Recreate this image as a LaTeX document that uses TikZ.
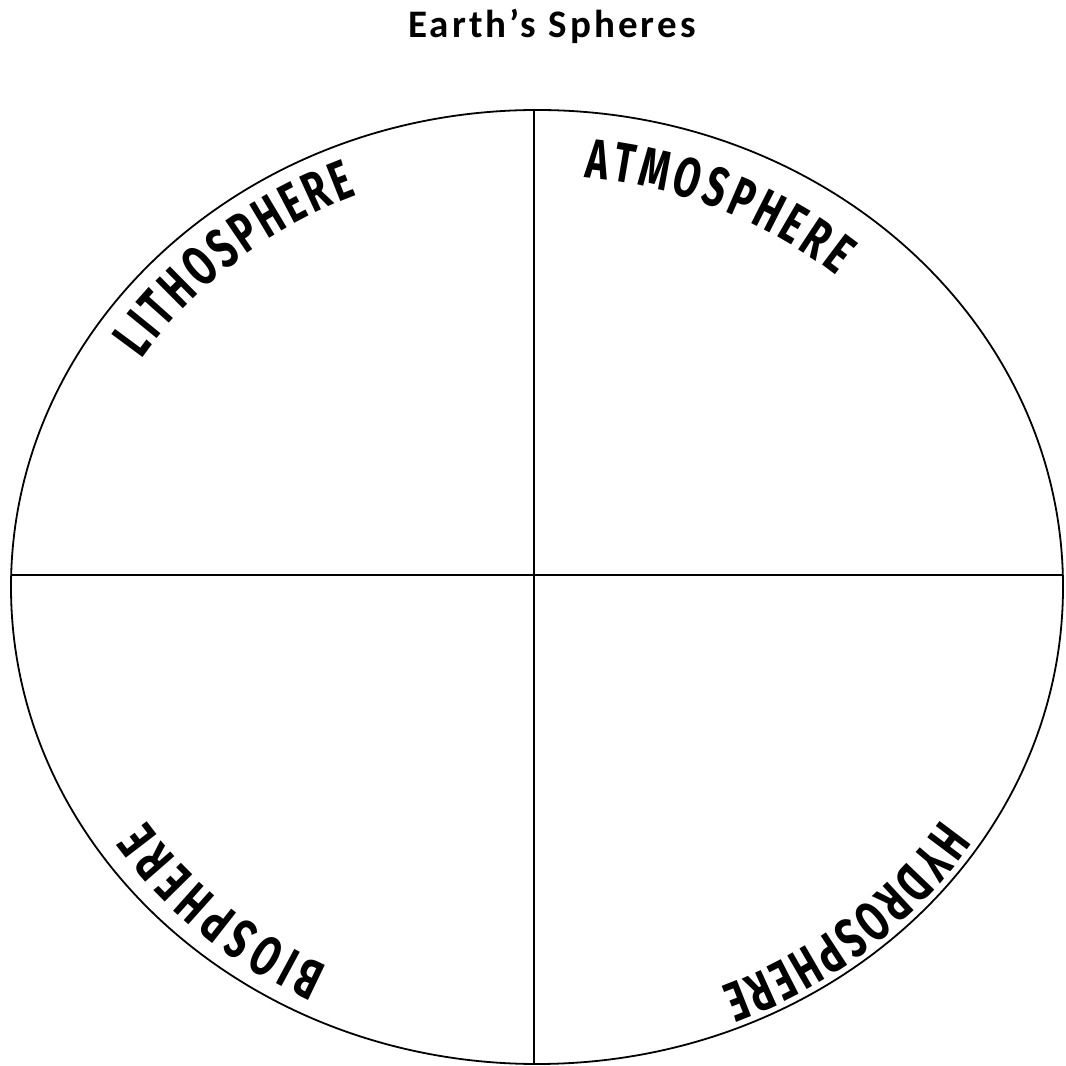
\documentclass[tikz,border=0pt]{standalone}
\usepackage{fontspec}
\setmainfont{Carlito}
\newfontfamily\titlefont[LetterSpace=8]{Carlito}
\newfontfamily\handfont[FakeStretch=0.68]{Fira Sans}
\usetikzlibrary{decorations.text}

\tikzset{
  sphere label/.style={decorate, decoration={text along path,
      text align={fit to path},
      text={|\handfont\bfseries\fontsize{56}{56}\selectfont|#1}}}
}

\begin{document}
\begin{tikzpicture}[x=1pt, y=1pt, line width=1.8pt]
  \useasboundingbox (0,0) rectangle (1066,1066);
  % O = centre of the outline, radii 526 and 477
  \coordinate (O) at (537,479);
  \node (title) at (552,1028) [anchor=base,
    font=\titlefont\bfseries\fontsize{39}{40}\selectfont] {Earth’s Spheres};
  \draw (O) ellipse [x radius=526, y radius=477];
  % the two dividers, cut at the outline
  \begin{scope}
    \clip (O) ellipse [x radius=526, y radius=477];
    \draw (0,491) -- (1066,491);
    \draw (534,0) -- (534,1066);
  \end{scope}
  % names, written clockwise along inner arcs
  \path[sphere label=LITHOSPHERE] (O) ++(147.5:469 and 424)
    arc[start angle=147.5, end angle=112.5, x radius=469, y radius=424];
  \path[sphere label=ATMOSPHERE] (O) ++(84:456 and 412)
    arc[start angle=84, end angle=49, x radius=456, y radius=412];
  \path[sphere label=BIOSPHERE] (O) ++(243.5:469 and 424)
    arc[start angle=243.5, end angle=213.5, x radius=469, y radius=424];
  \path[sphere label=HYDROSPHERE] (O) ++(327.5:480 and 433)
    arc[start angle=327.5, end angle=292.5, x radius=480, y radius=433];
\end{tikzpicture}
\end{document}
